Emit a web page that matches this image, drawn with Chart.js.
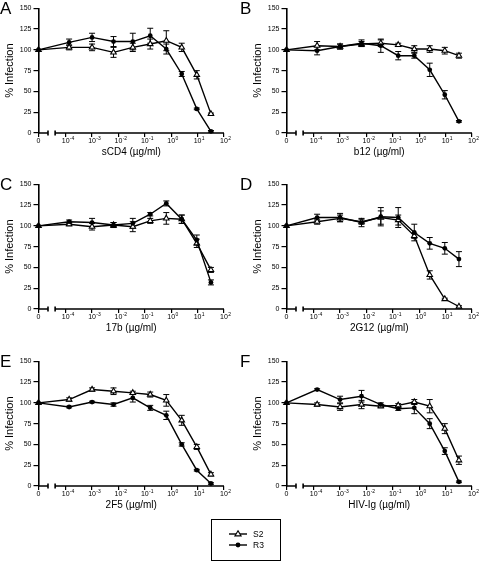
<!DOCTYPE html>
<html>
<head>
<meta charset="utf-8">
<title>% Infection vs antibody concentration</title>
<script src="https://cdn.jsdelivr.net/npm/chart.js@4.4.1/dist/chart.umd.min.js"></script>
<style>
  html, body { margin: 0; padding: 0; background: #fff; overflow: hidden; }
  #page { position: relative; width: 481px; height: 561px; overflow: hidden; font-family: "Liberation Sans", Arial, sans-serif; color: #000; }
  #page canvas { position: absolute; }
  .letter { position: absolute; font-size: 17px; line-height: 17px; color: #000; will-change: transform; }
  #legend { position: absolute; left: 211px; top: 519px; width: 68px; height: 40px; border: 1px solid #000; font-size: 8.5px; color: #000; will-change: transform; }
  #legend .row { position: absolute; left: 16px; height: 10px; line-height: 10px; }
  #legend svg { position: absolute; left: 0; top: 0; }
  #legend span { position: absolute; left: 25px; top: 0; color: #000; }
</style>
</head>
<body>
<div id="page">
  <div id="legend">
    <div class="row" style="top:9px">
      <svg width="20" height="10"><line x1="1" y1="5" x2="19" y2="5" stroke="#000" stroke-width="1.4"/><polygon points="10,1.8 13,6.8 7,6.8" fill="#fff" stroke="#000" stroke-width="1.2"/></svg>
      <span>S2</span>
    </div>
    <div class="row" style="top:20px">
      <svg width="20" height="10"><line x1="1" y1="5" x2="19" y2="5" stroke="#000" stroke-width="1.4"/><circle cx="10" cy="5" r="2.4" fill="#000"/></svg>
      <span>R3</span>
    </div>
  </div>
</div>
<script>
// antibody concentration (µg/ml); first point is the no-drug control (0)
const conc = [0, 0.000135, 0.001, 0.0065, 0.035, 0.16, 0.65, 2.5, 9.3, 32];
const xTickExp = [-4, -3, -2, -1, 0, 1, 2];
const yTicks = [0, 25, 50, 75, 100, 125, 150];

// A - sCD4
const sCD4S2 = [100, 103, 103, 97, 103, 107, 111, 103, 70, 23];
const sCD4S2Err = [0, 3, 4, 6, 5, 6, 12, 5, 5, 1];
const sCD4R3 = [100, 109, 115, 110, 110, 117, 101, 71, 29, 2];
const sCD4R3Err = [0, 4, 5, 6, 10, 9, 6, 3, 1, 1];

// B - b12
const b12S2 = [100, 105, 104, 107, 108, 106, 101, 101, 99, 93];
const b12S2Err = [0, 5, 3, 3, 4, 2, 4, 4, 4, 3];
const b12R3 = [100, 99, 104, 108, 105, 93, 93, 76, 46, 14];
const b12R3Err = [0, 5, 3, 4, 8, 5, 3, 8, 5, 1];

// C - 17b
const m17bS2 = [100, 102, 99, 101, 99, 106, 109, 108, 79, 47];
const m17bS2Err = [0, 2, 4, 3, 6, 3, 7, 5, 5, 3];
const m17bR3 = [100, 105, 104, 101, 103, 114, 127, 108, 83, 32];
const m17bR3Err = [0, 2, 5, 3, 6, 2, 3, 5, 6, 3];

// D - 2G12
const g12S2 = [100, 105, 109, 105, 110, 107, 88, 41, 12, 3];
const g12S2Err = [0, 3, 4, 3, 8, 6, 3, 5, 1, 1];
const g12R3 = [100, 110, 110, 104, 111, 110, 92, 79, 73, 60];
const g12R3Err = [0, 4, 5, 5, 11, 12, 10, 7, 7, 9];

// E - 2F5
const f5S2 = [100, 104, 116, 114, 112, 110, 103, 79, 47, 14];
const f5S2Err = [0, 2, 2, 4, 2, 3, 7, 6, 3, 2];
const f5R3 = [100, 95, 101, 98, 106, 94, 85, 50, 19, 3];
const f5R3Err = [0, 1, 1, 2, 5, 3, 5, 2, 1, 1];

// F - HIV-Ig
const igS2 = [100, 98, 95, 98, 96, 97, 101, 96, 69, 31];
const igS2Err = [0, 2, 4, 5, 2, 2, 3, 8, 6, 5];
const igR3 = [100, 116, 104, 108, 98, 93, 94, 75, 42, 5];
const igR3Err = [0, 1, 4, 7, 2, 2, 7, 6, 4, 1];

const panels = [
  { letter: 'A', label: 'sCD4 (\u00b5g/ml)', s2: sCD4S2, s2e: sCD4S2Err, r3: sCD4R3, r3e: sCD4R3Err, left: 0, top: 0 },
  { letter: 'B', label: 'b12 (\u00b5g/ml)', s2: b12S2, s2e: b12S2Err, r3: b12R3, r3e: b12R3Err, left: 248, top: 0 },
  { letter: 'C', label: '17b (\u00b5g/ml)', s2: m17bS2, s2e: m17bS2Err, r3: m17bR3, r3e: m17bR3Err, left: 0, top: 176 },
  { letter: 'D', label: '2G12 (\u00b5g/ml)', s2: g12S2, s2e: g12S2Err, r3: g12R3, r3e: g12R3Err, left: 248, top: 176 },
  { letter: 'E', label: '2F5 (\u00b5g/ml)', s2: f5S2, s2e: f5S2Err, r3: f5R3, r3e: f5R3Err, left: 0, top: 353 },
  { letter: 'F', label: 'HIV-Ig (\u00b5g/ml)', s2: igS2, s2e: igS2Err, r3: igR3, r3e: igR3Err, left: 248, top: 353 }
];

// the 0 control sits left of a break in the log axis
const zeroPos = -5.03;
const breakEnd = -4.67, breakStart = -4.40;
const FONT = '"Liberation Sans", Arial, sans-serif';

function toAxis(c) {
  return c === 0 ? zeroPos : Math.log10(c);
}

const brokenAxis = {
  id: 'brokenAxis',
  beforeDatasetsDraw(chart) {
    const ctx = chart.ctx;
    const x = chart.scales.x, y = chart.scales.y;
    const py = y.getPixelForValue(0);
    const a = x.getPixelForValue(zeroPos), b = x.getPixelForValue(breakEnd);
    const c = x.getPixelForValue(breakStart), d = x.getPixelForValue(2);
    ctx.save();
    ctx.strokeStyle = '#000';
    ctx.lineWidth = 1.6;
    ctx.beginPath();
    ctx.moveTo(a, py); ctx.lineTo(b, py);
    ctx.moveTo(c, py); ctx.lineTo(d, py);
    ctx.moveTo(b, py - 2.5); ctx.lineTo(b, py + 2.5);
    ctx.moveTo(c, py - 2.5); ctx.lineTo(c, py + 2.5);
    ctx.stroke();
    ctx.restore();
  }
};

// x tick labels: "0" for the control, 10 with a raised exponent for the decades
const powerLabels = {
  id: 'powerLabels',
  afterDraw(chart) {
    const ctx = chart.ctx;
    const x = chart.scales.x, y = chart.scales.y;
    const top = y.getPixelForValue(0) + 5;
    ctx.save();
    ctx.fillStyle = '#000';
    ctx.textBaseline = 'top';
    ctx.font = '7px ' + FONT;
    ctx.textAlign = 'center';
    ctx.fillText('0', x.getPixelForValue(zeroPos), top);
    xTickExp.forEach(e => {
      const px = x.getPixelForValue(e);
      ctx.font = '7px ' + FONT;
      ctx.textAlign = 'center';
      ctx.fillText('10', px, top);
      const w = ctx.measureText('10').width;
      ctx.font = '5px ' + FONT;
      ctx.textAlign = 'left';
      ctx.fillText(e < 0 ? '-' + Math.abs(e) : String(e), px + w / 2 + 0.3, top - 2);
    });
    ctx.restore();
  }
};

const errorBars = {
  id: 'errorBars',
  beforeDatasetsDraw(chart) {
    const ctx = chart.ctx;
    const y = chart.scales.y;
    ctx.save();
    ctx.strokeStyle = '#000';
    ctx.lineWidth = 1;
    chart.data.datasets.forEach((ds, i) => {
      const meta = chart.getDatasetMeta(i);
      meta.data.forEach((pt, j) => {
        const e = ds.errors[j];
        if (!e) return;
        const v = ds.data[j].y;
        const t = y.getPixelForValue(v + e), b = y.getPixelForValue(v - e);
        ctx.beginPath();
        ctx.moveTo(pt.x, t); ctx.lineTo(pt.x, b);
        ctx.moveTo(pt.x - 3, t); ctx.lineTo(pt.x + 3, t);
        ctx.moveTo(pt.x - 3, b); ctx.lineTo(pt.x + 3, b);
        ctx.stroke();
      });
    });
    ctx.restore();
  }
};

const page = document.getElementById('page');

panels.forEach(p => {
  const letter = document.createElement('div');
  letter.className = 'letter';
  letter.textContent = p.letter;
  letter.style.left = (p.left === 0 ? 0 : 240) + 'px';
  letter.style.top = (p.top - 0.5) + 'px';
  page.appendChild(letter);

  const canvas = document.createElement('canvas');
  canvas.width = 240;
  canvas.height = 162;
  canvas.style.left = p.left + 'px';
  canvas.style.top = p.top + 'px';
  page.appendChild(canvas);

  new Chart(canvas, {
    type: 'line',
    data: {
      datasets: [
        {
          label: 'R3',
          data: conc.map((c, i) => ({ x: toAxis(c), y: p.r3[i] })),
          errors: p.r3e,
          borderColor: '#000',
          borderWidth: 1.4,
          pointStyle: 'circle',
          pointRadius: 2.4,
          pointBackgroundColor: '#000',
          pointBorderWidth: 0,
          clip: false
        },
        {
          label: 'S2',
          data: conc.map((c, i) => ({ x: toAxis(c), y: p.s2[i] })),
          errors: p.s2e,
          borderColor: '#000',
          borderWidth: 1.4,
          pointStyle: 'triangle',
          pointRadius: 3.2,
          pointBackgroundColor: '#fff',
          pointBorderColor: '#000',
          pointBorderWidth: 1.1,
          clip: false
        }
      ]
    },
    options: {
      responsive: false,
      animation: false,
      events: [],
      layout: { padding: { left: 0, top: 8.3, right: 16, bottom: 0 } },
      plugins: { legend: { display: false }, tooltip: { enabled: false } },
      scales: {
        x: {
          type: 'linear',
          min: zeroPos,
          max: 2,
          border: { display: false },
          grid: { drawOnChartArea: false, drawTicks: true, tickLength: 4, color: '#000', lineWidth: 1.2 },
          afterBuildTicks: s => { s.ticks = [zeroPos, ...xTickExp].map(v => ({ value: v })); },
          ticks: { display: false },
          title: { display: true, text: p.label, color: '#000', font: { family: FONT, size: 10 }, padding: { top: 0, bottom: 3.3 } },
          afterFit: s => { s.height = 29; }
        },
        y: {
          min: 0,
          max: 150,
          border: { display: true, color: '#000', width: 1.6 },
          grid: { drawOnChartArea: false, drawTicks: true, tickLength: 5, color: '#000', lineWidth: 1.2 },
          afterBuildTicks: s => { s.ticks = yTicks.map(v => ({ value: v })); },
          ticks: { padding: 2, color: '#000', font: { family: FONT, size: 7 } },
          title: { display: true, text: '% Infection', color: '#000', font: { family: FONT, size: 11 }, padding: { top: 3.4, bottom: 0 } },
          afterFit: s => { s.width = 38.5; }
        }
      }
    },
    plugins: [brokenAxis, errorBars, powerLabels]
  });
});
</script>
</body>
</html>
